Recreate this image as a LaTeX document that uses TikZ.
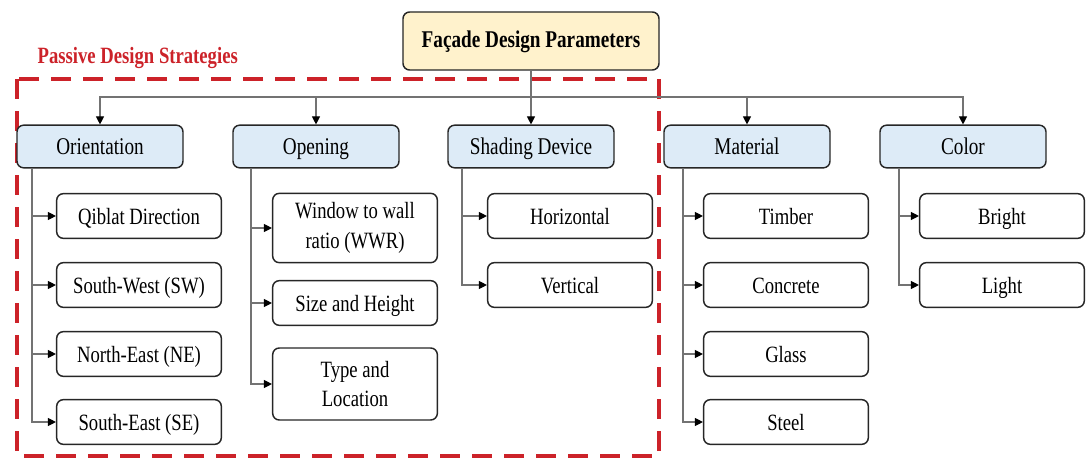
\documentclass[tikz,border=0pt]{standalone}
\usepackage{fontspec}
\setmainfont{Liberation Serif}[FakeStretch=0.8]
\usetikzlibrary{arrows.meta}
\definecolor{catblue}{HTML}{DDEBF7}
\definecolor{titleyellow}{HTML}{FFF2CC}
\definecolor{passivered}{HTML}{CC2229}
\begin{document}
\begin{tikzpicture}[x=0.75pt,y=-0.75pt,
    box/.style={draw=black!85,line width=1.1pt,rounded corners=5pt,align=center,
      font=\fontsize{17.5}{22}\selectfont},
    cat/.style={box,fill=catblue,minimum width=124.5pt,minimum height=32pt,
      text height=14pt,text depth=2pt,font=\fontsize{18}{22}\selectfont},
    leafbox/.style={box,fill=white,minimum width=123.5pt,minimum height=33.5pt},
    leaf/.style={leafbox,text height=14pt,text depth=2pt},
    link/.style={draw=black!55,line width=0.8pt,-{Triangle[length=6pt,width=6pt,color=black]}}]
    \useasboundingbox (0,0) rectangle (1088,460);
    % Passive design strategies frame
    \draw[passivered,line width=3pt,dash pattern=on 15pt off 9pt] (17,79) rectangle (659,456);
    \node[passivered,anchor=west,font=\fontsize{17.5}{20}\selectfont\bfseries] (pds) at (33,58) {Passive Design Strategies};
    % Top box
    \node[box,fill=titleyellow,minimum width=192pt,minimum height=43.5pt,
      text height=13pt,text depth=3pt,font=\fontsize{18}{20}\selectfont\bfseries] (fdp) at (531,41) {Façade Design Parameters};
    % Categories
    \node[cat] (ori) at (100,146.5) {Orientation};
    \node[cat] (ope) at (316,146.5) {Opening};
    \node[cat] (shd) at (531,146.5) {Shading Device};
    \node[cat] (mat) at (747,146.5) {Material};
    \node[cat] (col) at (963,146.5) {Color};
    % Bus from top box to categories
    \coordinate (bus) at (531,97);
    \draw[link] (fdp.south) -- (shd.north);
    \foreach \c in {ori,ope,mat,col}
      \draw[link] (bus) -| (\c.north);
    % Orientation leaves
    \node[leaf] (qib) at (139,216) {Qiblat Direction};
    \node[leaf] (sw) at (139,285) {South-West (SW)};
    \node[leaf] (ne) at (139,354) {North-East (NE)};
    \node[leaf] (se) at (139,422) {South-East (SE)};
    \coordinate (oriT) at (32,168);
    \foreach \c in {qib,sw,ne,se}
      \draw[link] (oriT) |- (\c.west);
    % Opening leaves
    \node[leafbox,minimum height=52pt] (wwr) at (355,228) {Window to wall\\ratio (WWR)};
    \node[leaf] (siz) at (355,303) {Size and Height};
    \node[leafbox,minimum height=54pt] (typ) at (355,384) {Type and\\Location};
    \coordinate (opeT) at (251,168);
    \foreach \c in {wwr,siz,typ}
      \draw[link] (opeT) |- (\c.west);
    % Shading device leaves
    \node[leaf] (hor) at (570,216) {Horizontal};
    \node[leaf] (ver) at (570,285) {Vertical};
    \coordinate (shdT) at (462,168);
    \foreach \c in {hor,ver}
      \draw[link] (shdT) |- (\c.west);
    % Material leaves
    \node[leaf] (tim) at (786,216) {Timber};
    \node[leaf] (con) at (786,285) {Concrete};
    \node[leaf] (gla) at (786,354) {Glass};
    \node[leaf] (ste) at (786,422) {Steel};
    \coordinate (matT) at (683,168);
    \foreach \c in {tim,con,gla,ste}
      \draw[link] (matT) |- (\c.west);
    % Color leaves
    \node[leaf] (bri) at (1002,216) {Bright};
    \node[leaf] (lig) at (1002,285) {Light};
    \coordinate (colT) at (899,168);
    \foreach \c in {bri,lig}
      \draw[link] (colT) |- (\c.west);
\end{tikzpicture}
\end{document}
